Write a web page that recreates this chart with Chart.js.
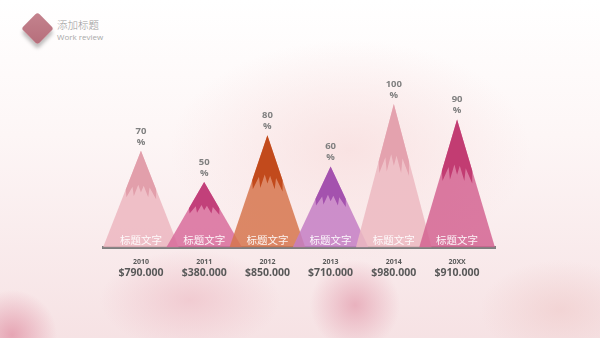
<!DOCTYPE html>
<html>
<head>
<meta charset="utf-8">
<script src="https://cdn.jsdelivr.net/npm/chart.js@4"></script>
<style>
  html, body { margin: 0; padding: 0; }
  body {
    width: 600px; height: 338px; overflow: hidden; position: relative;
    font-family: "Noto Sans CJK SC", "Noto Sans", sans-serif;
    background:
      radial-gradient(circle at 355px 305px, rgba(228,160,176,0.75) 0, rgba(228,160,176,0) 45px),
      radial-gradient(circle at 12px 335px, rgba(226,150,168,0.8) 0, rgba(226,150,168,0) 45px),
      radial-gradient(ellipse 90px 50px at 190px 300px, rgba(238,192,200,0.7), rgba(238,192,200,0)),
      radial-gradient(ellipse 80px 50px at 560px 310px, rgba(240,205,205,0.7), rgba(240,205,205,0)),
      radial-gradient(ellipse 180px 110px at 350px 150px, rgba(248,222,222,0.8), rgba(248,222,222,0)),
      linear-gradient(to bottom, #ffffff 0%, #fdf6f6 40%, #f6e2e4 100%);
  }
  .logo {
    position: absolute; left: 26px; top: 17px; width: 23px; height: 23px;
    transform: rotate(45deg); border-radius: 3px;
    background: linear-gradient(135deg, #c4838e, #b66e7b);
    box-shadow: 3px 3px 4px rgba(0,0,0,0.25);
  }
  .title { position: absolute; left: 57px; top: 18px; color: #9a9a9a; font-size: 10.5px; line-height: 14px; font-weight: 300; }
  .sub { position: absolute; left: 57px; top: 32px; color: #a8a8a8; font-size: 8px; line-height: 10px; font-family: "Open Sans", sans-serif; }
  canvas { position: absolute; left: 0; top: 0; }
</style>
</head>
<body>
<div class="logo"></div>
<div class="title">添加标题</div>
<div class="sub">Work review</div>
<canvas id="mChart" width="600" height="338"></canvas>
<script>
const categories = ['2010', '2011', '2012', '2013', '2014', '20XX'];
const percents   = [70, 50, 80, 60, 100, 90];
const amounts    = ['$790.000', '$380.000', '$850.000', '$710.000', '$980.000', '$910.000'];
const innerLabel = '标题文字';

const bodyColors = ['rgba(236,182,192,0.85)', 'rgba(216,108,155,0.85)', 'rgba(214,118,78,0.85)',
                    'rgba(196,126,196,0.85)', 'rgba(236,184,193,0.85)', 'rgba(212,100,146,0.85)'];
const capColors  = ['#e29fab', '#c2407a', '#c24a1c', '#a452ae', '#e4a2ae', '#c23c72'];

const yMin = 8, yMax = 100;
const halfW = 0.6;      // half base width, in category units
const capDepth = 0.4;   // how far down the snow cap reaches
// jagged bottom edge of the cap: [position across 0..1, extra depth]
const jag = [[0.1, 0.08], [0.2, -0.03], [0.3, 0.07], [0.4, -0.05], [0.5, 0.03],
             [0.6, -0.04], [0.7, 0.08], [0.8, -0.02], [0.9, 0.1]];

const datasets = [];
categories.forEach((c, i) => {
  const v = percents[i];
  datasets.push({
    label: c,
    data: [{x: i - halfW, y: yMin}, {x: i, y: v}, {x: i + halfW, y: yMin}],
    backgroundColor: bodyColors[i],
    borderWidth: 0, pointRadius: 0, tension: 0,
    fill: 'start', order: 20 - i
  });
  const h = v - yMin;
  const pts = [{x: i, y: v}, {x: i - halfW * capDepth, y: v - h * capDepth}];
  jag.forEach(([t, d]) => {
    const g = capDepth + d;
    pts.push({x: i - halfW * g + t * 2 * halfW * g, y: v - h * g});
  });
  pts.push({x: i + halfW * capDepth, y: v - h * capDepth});
  pts.push({x: i, y: v});
  datasets.push({
    label: c + ' cap',
    data: pts,
    backgroundColor: capColors[i],
    borderWidth: 0, pointRadius: 0, tension: 0,
    fill: 'shape', order: 10 - i
  });
});

// value labels above peaks, names inside the mountains, amounts under the years
const labelPlugin = {
  id: 'labels',
  afterDraw(chart) {
    const {ctx, scales: {x, y}} = chart;
    ctx.save();
    ctx.textAlign = 'center';
    ctx.textBaseline = 'middle';
    categories.forEach((c, i) => {
      const px = x.getPixelForValue(i);
      const py = y.getPixelForValue(percents[i]);
      ctx.fillStyle = '#808080';
      ctx.font = 'bold 9.5px "Open Sans", sans-serif';
      ctx.fillText(String(percents[i]), px, py - 20);
      ctx.fillText('%', px, py - 9);
      ctx.fillStyle = 'rgba(255,255,255,0.92)';
      ctx.font = '10.5px "Noto Sans CJK SC", sans-serif';
      ctx.fillText(innerLabel, px, y.bottom - 8);
      ctx.fillStyle = '#595959';
      ctx.font = 'bold 10.5px "Open Sans", sans-serif';
      ctx.fillText(amounts[i], px, x.top + 25);
    });
    ctx.restore();
  }
};

new Chart(document.getElementById('mChart'), {
  type: 'line',
  data: {datasets},
  plugins: [labelPlugin],
  options: {
    responsive: false,
    devicePixelRatio: 1,
    animation: false,
    parsing: true,
    layout: {padding: {left: 103, right: 105, top: 104, bottom: 62}},
    plugins: {legend: {display: false}, tooltip: {enabled: false}},
    scales: {
      y: {type: 'linear', min: yMin, max: yMax, display: false},
      x: {
        type: 'linear', position: 'bottom', min: -halfW, max: categories.length - 1 + halfW,
        afterBuildTicks: scale => { scale.ticks = categories.map((c, i) => ({value: i})); },
        grid: {display: false, drawTicks: false},
        border: {display: true, color: '#7f7f7f', width: 3},
        ticks: {
          padding: 10, color: '#5a5a5a', maxRotation: 0, autoSkip: false,
          font: {family: '"Open Sans", sans-serif', size: 7, weight: 'bold'},
          callback: v => categories[v]
        }
      }
    }
  }
});
</script>
</body>
</html>
